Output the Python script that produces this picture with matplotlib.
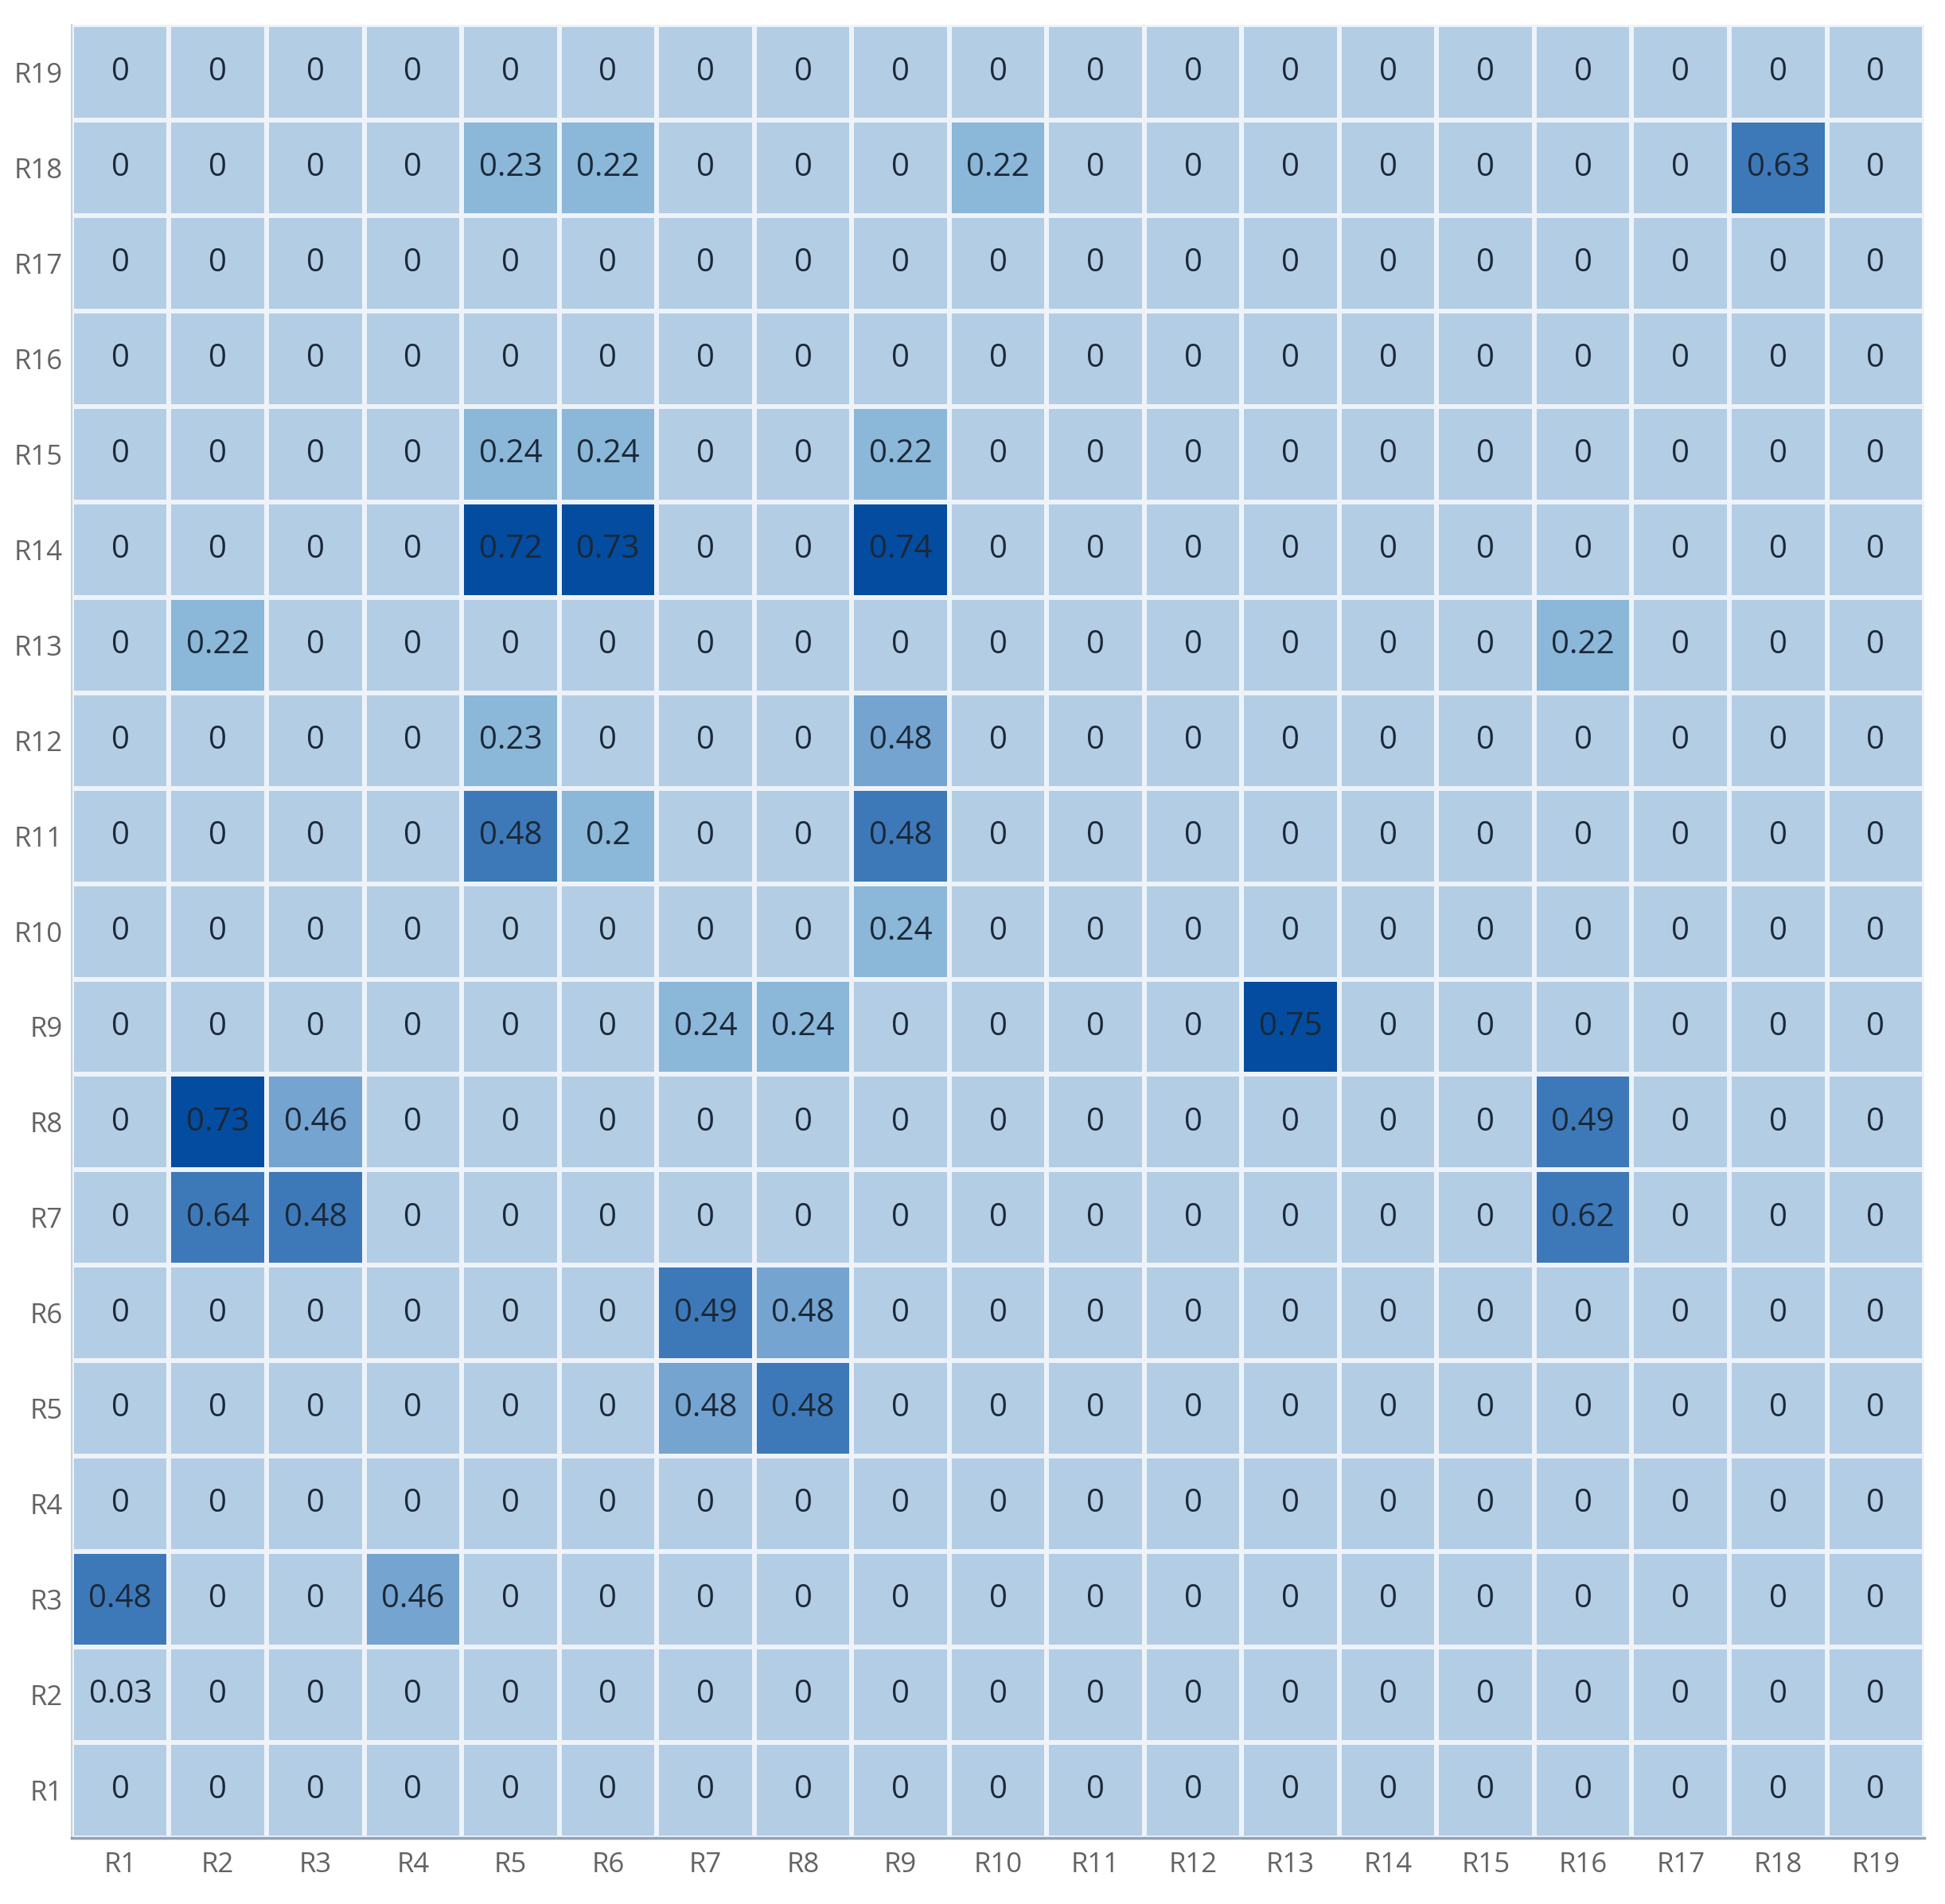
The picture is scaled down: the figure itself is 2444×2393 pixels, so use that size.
import matplotlib.pyplot as plt
import numpy as np
from matplotlib.colors import ListedColormap, BoundaryNorm

plt.rcParams["font.family"] = ["Open Sans", "DejaVu Sans"]

labels = [f"R{i}" for i in range(1, 20)]

# rows listed R1 (bottom) .. R19 (top), columns R1 .. R19
values = [
    [0, 0, 0, 0, 0, 0, 0, 0, 0, 0, 0, 0, 0, 0, 0, 0, 0, 0, 0],                    # R1
    [0.03, 0, 0, 0, 0, 0, 0, 0, 0, 0, 0, 0, 0, 0, 0, 0, 0, 0, 0],                 # R2
    [0.483, 0, 0, 0.46, 0, 0, 0, 0, 0, 0, 0, 0, 0, 0, 0, 0, 0, 0, 0],             # R3
    [0, 0, 0, 0, 0, 0, 0, 0, 0, 0, 0, 0, 0, 0, 0, 0, 0, 0, 0],                    # R4
    [0, 0, 0, 0, 0, 0, 0.477, 0.483, 0, 0, 0, 0, 0, 0, 0, 0, 0, 0, 0],            # R5
    [0, 0, 0, 0, 0, 0, 0.49, 0.477, 0, 0, 0, 0, 0, 0, 0, 0, 0, 0, 0],             # R6
    [0, 0.64, 0.483, 0, 0, 0, 0, 0, 0, 0, 0, 0, 0, 0, 0, 0.62, 0, 0, 0],          # R7
    [0, 0.73, 0.46, 0, 0, 0, 0, 0, 0, 0, 0, 0, 0, 0, 0, 0.49, 0, 0, 0],           # R8
    [0, 0, 0, 0, 0, 0, 0.24, 0.24, 0, 0, 0, 0, 0.75, 0, 0, 0, 0, 0, 0],           # R9
    [0, 0, 0, 0, 0, 0, 0, 0, 0.24, 0, 0, 0, 0, 0, 0, 0, 0, 0, 0],                 # R10
    [0, 0, 0, 0, 0.483, 0.2, 0, 0, 0.483, 0, 0, 0, 0, 0, 0, 0, 0, 0, 0],          # R11
    [0, 0, 0, 0, 0.23, 0, 0, 0, 0.477, 0, 0, 0, 0, 0, 0, 0, 0, 0, 0],             # R12
    [0, 0.22, 0, 0, 0, 0, 0, 0, 0, 0, 0, 0, 0, 0, 0, 0.22, 0, 0, 0],              # R13
    [0, 0, 0, 0, 0.72, 0.73, 0, 0, 0.74, 0, 0, 0, 0, 0, 0, 0, 0, 0, 0],           # R14
    [0, 0, 0, 0, 0.24, 0.24, 0, 0, 0.22, 0, 0, 0, 0, 0, 0, 0, 0, 0, 0],           # R15
    [0, 0, 0, 0, 0, 0, 0, 0, 0, 0, 0, 0, 0, 0, 0, 0, 0, 0, 0],                    # R16
    [0, 0, 0, 0, 0, 0, 0, 0, 0, 0, 0, 0, 0, 0, 0, 0, 0, 0, 0],                    # R17
    [0, 0, 0, 0, 0.23, 0.22, 0, 0, 0, 0.22, 0, 0, 0, 0, 0, 0, 0, 0.63, 0],        # R18
    [0, 0, 0, 0, 0, 0, 0, 0, 0, 0, 0, 0, 0, 0, 0, 0, 0, 0, 0],                    # R19
]

data = np.array(values)
n = len(labels)

cmap = ListedColormap(["#b3cde4", "#8bb7d8", "#74a4cf", "#3d79b8", "#034c9f"])
norm = BoundaryNorm([-0.01, 0.1, 0.3, 0.48, 0.7, 1.0], cmap.N)

fig = plt.figure(figsize=(24.44, 23.93), dpi=100)
ax = fig.add_axes([0.0368, 0.0347, 0.9526, 0.9523])

ax.pcolormesh(np.arange(n + 1), np.arange(n + 1), data, cmap=cmap, norm=norm,
              edgecolors="#eef3f9", linewidth=3.0)

for r in range(n):
    for c in range(n):
        ax.text(c + 0.5, r + 0.5, f"{data[r, c]:.2g}", ha="center", va="center",
                fontsize=29, color="#1b2838")

ax.set_xlim(0, n)
ax.set_ylim(0, n)
ax.set_xticks(np.arange(n) + 0.5)
ax.set_xticklabels(labels)
ax.set_yticks(np.arange(n) + 0.5)
ax.set_yticklabels(labels)
ax.tick_params(length=0, labelsize=25, labelcolor="#636363", pad=12)
ax.tick_params(axis="y", pad=8)

for s in ["top", "right"]:
    ax.spines[s].set_visible(False)
ax.spines["bottom"].set_color("#8fa3b8")
ax.spines["bottom"].set_linewidth(2.5)
ax.spines["left"].set_color("#c8d2dc")
ax.spines["left"].set_linewidth(1.5)

fig.savefig("out.png", dpi=100, facecolor="white")
